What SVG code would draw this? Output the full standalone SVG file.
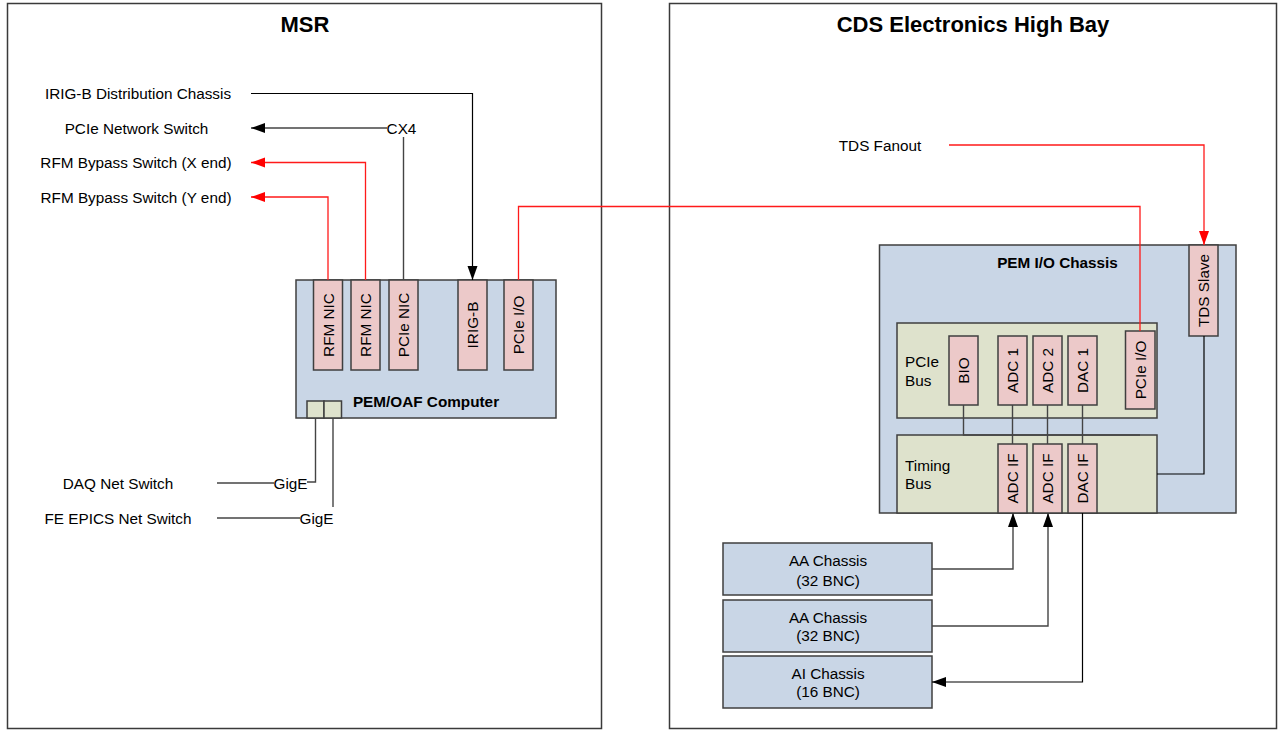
<svg xmlns="http://www.w3.org/2000/svg" width="1281" height="731" viewBox="0 0 1281 731">
<style>
text{font-family:"Liberation Sans",Arial,sans-serif;font-size:15.3px;fill:#000}
.t{font-size:22px;font-weight:bold;text-anchor:middle}
.b{font-weight:bold;text-anchor:middle;dominant-baseline:central}
.c{text-anchor:middle;dominant-baseline:central}
.l{dominant-baseline:central}
.area{fill:#fff;stroke:#3a3a3a;stroke-width:1.5}
.blue{fill:#c9d6e6;stroke:#3f3f3f;stroke-width:1.5}
.green{fill:#dee2cc;stroke:#3f3f3f;stroke-width:1.5}
.card{fill:#ecc9c9;stroke:#3f3f3f;stroke-width:1.5}
.k{fill:none;stroke:#000;stroke-width:1.2}
.g{fill:none;stroke:#444;stroke-width:1.4}
.r{fill:none;stroke:#ff1a1a;stroke-width:1.3}
</style>
<defs>
<marker id="ak" markerUnits="userSpaceOnUse" markerWidth="15" markerHeight="11" refX="14" refY="5" orient="auto"><path d="M0,0 L14,5 L0,10 z" fill="#000"/></marker>
<marker id="ar" markerUnits="userSpaceOnUse" markerWidth="15" markerHeight="11" refX="14" refY="5" orient="auto"><path d="M0,0 L14,5 L0,10 z" fill="#ff0000"/></marker>
</defs>

<g id="msr">
<rect class="area" x="7.5" y="3.5" width="594" height="725"/>
<text class="t" x="305" y="32">MSR</text>
</g>
<g id="cds">
<rect class="area" x="669.5" y="3.5" width="607" height="725"/>
<text class="t" x="973" y="32">CDS Electronics High Bay</text>
</g>

<g id="labels-msr">
<text class="c" x="138" y="93">IRIG-B Distribution Chassis</text>
<text class="c" x="136.5" y="128">PCIe Network Switch</text>
<text class="c" x="136" y="162.5">RFM Bypass Switch (X end)</text>
<text class="c" x="136" y="197">RFM Bypass Switch (Y end)</text>
<text class="c" x="118" y="483">DAQ Net Switch</text>
<text class="c" x="118" y="518">FE EPICS Net Switch</text>
</g>
<g id="tds-fanout"><text class="c" x="880" y="145">TDS Fanout</text></g>

<g id="pem-oaf">
<rect class="blue" x="296" y="280" width="260" height="138"/>
<text class="b" x="426" y="401">PEM/OAF Computer</text>
<rect class="green" x="307" y="401" width="17" height="17"/>
<rect class="green" x="324" y="401" width="17.5" height="17"/>
</g>
<g id="rfm-nic-1"><rect class="card" x="313.5" y="280" width="29" height="90"/><text class="c" transform="rotate(-90 328 325)" x="328" y="325">RFM NIC</text></g>
<g id="rfm-nic-2"><rect class="card" x="351" y="280" width="29" height="90"/><text class="c" transform="rotate(-90 365.5 325)" x="365.5" y="325">RFM NIC</text></g>
<g id="pcie-nic"><rect class="card" x="389" y="280" width="29" height="90"/><text class="c" transform="rotate(-90 403.5 325)" x="403.5" y="325">PCIe NIC</text></g>
<g id="irig-b"><rect class="card" x="458" y="280" width="29" height="90"/><text class="c" transform="rotate(-90 472.5 325)" x="472.5" y="325">IRIG-B</text></g>
<g id="pcie-io-msr"><rect class="card" x="504" y="280" width="29" height="90"/><text class="c" transform="rotate(-90 518.5 325)" x="518.5" y="325">PCIe I/O</text></g>

<g id="pem-io-chassis">
<rect class="blue" x="879.5" y="245" width="356.5" height="268"/>
<text class="b" x="1057.5" y="262">PEM I/O Chassis</text>
</g>
<g id="pcie-bus">
<rect class="green" x="897" y="323" width="260" height="95"/>
<text class="l" x="905" y="361.5">PCIe</text>
<text class="l" x="905" y="380">Bus</text>
</g>
<g id="timing-bus">
<rect class="green" x="897" y="435" width="260" height="78"/>
<text class="l" x="905" y="465">Timing</text>
<text class="l" x="905" y="483">Bus</text>
</g>
<g id="tds-slave"><rect class="card" x="1189" y="245" width="29" height="91"/><text class="c" transform="rotate(-90 1203.5 290.5)" x="1203.5" y="290.5">TDS Slave</text></g>
<g id="bio"><rect class="card" x="949" y="336" width="29" height="69"/><text class="c" transform="rotate(-90 963.5 370.5)" x="963.5" y="370.5">BIO</text></g>
<g id="adc1"><rect class="card" x="998" y="336" width="29" height="69"/><text class="c" transform="rotate(-90 1012.5 370.5)" x="1012.5" y="370.5">ADC 1</text></g>
<g id="adc2"><rect class="card" x="1033" y="336" width="29" height="69"/><text class="c" transform="rotate(-90 1047.5 370.5)" x="1047.5" y="370.5">ADC 2</text></g>
<g id="dac1"><rect class="card" x="1068" y="336" width="29" height="69"/><text class="c" transform="rotate(-90 1082.5 370.5)" x="1082.5" y="370.5">DAC 1</text></g>
<g id="pcie-io-cds"><rect class="card" x="1125.5" y="331" width="29.5" height="78"/><text class="c" transform="rotate(-90 1140 370)" x="1140" y="370">PCIe I/O</text></g>
<g id="adc-if-1"><rect class="card" x="998" y="444" width="29" height="69"/><text class="c" transform="rotate(-90 1012.5 478.5)" x="1012.5" y="478.5">ADC IF</text></g>
<g id="adc-if-2"><rect class="card" x="1033" y="444" width="29" height="69"/><text class="c" transform="rotate(-90 1047.5 478.5)" x="1047.5" y="478.5">ADC IF</text></g>
<g id="dac-if"><rect class="card" x="1068" y="444" width="29" height="69"/><text class="c" transform="rotate(-90 1082.5 478.5)" x="1082.5" y="478.5">DAC IF</text></g>

<g id="aa-chassis-1"><rect class="blue" x="723" y="543" width="209" height="52"/><text class="c" x="828" y="560">AA Chassis</text><text class="c" x="828" y="580">(32 BNC)</text></g>
<g id="aa-chassis-2"><rect class="blue" x="723" y="600" width="209" height="52"/><text class="c" x="828" y="617">AA Chassis</text><text class="c" x="828" y="635">(32 BNC)</text></g>
<g id="ai-chassis"><rect class="blue" x="723" y="656" width="209" height="52"/><text class="c" x="828" y="673">AI Chassis</text><text class="c" x="828" y="691">(16 BNC)</text></g>

<g id="connectors">
<path class="k" d="M251,93.5 H472.5 V280" marker-end="url(#ak)"/>
<path class="g" d="M387,128 H251" marker-end="url(#ak)"/>
<text class="c" x="401.5" y="128">CX4</text>
<path class="g" d="M403.5,137 V280"/>
<path class="r" d="M365.5,280 V162.5 H251" marker-end="url(#ar)"/>
<path class="r" d="M328,280 V197 H251" marker-end="url(#ar)"/>
<path class="r" d="M518.5,280 V206.5 H1140 V331"/>
<path class="r" d="M949,145 H1204 V245" marker-end="url(#ar)"/>
<path class="g" d="M217,483 H274"/>
<text class="c" x="290.5" y="483">GigE</text>
<path class="g" d="M307,482 H315.5 V418"/>
<path class="g" d="M217,518 H300"/>
<text class="c" x="316.5" y="518">GigE</text>
<path class="g" d="M333,418 V507"/>
<path class="g" d="M963.5,405 V435 H1140"/>
<path class="g" d="M1012.5,405 V444"/>
<path class="g" d="M1047.5,405 V444"/>
<path class="g" d="M1082.5,405 V444"/>
<path class="k" d="M1204,336 V474 H1157"/>
<path class="g" d="M932,569 H1013 V513" marker-end="url(#ak)"/>
<path class="g" d="M932,626 H1048 V513" marker-end="url(#ak)"/>
<path class="k" d="M1082.5,513 V682 H932" marker-end="url(#ak)"/>
</g>
</svg>
